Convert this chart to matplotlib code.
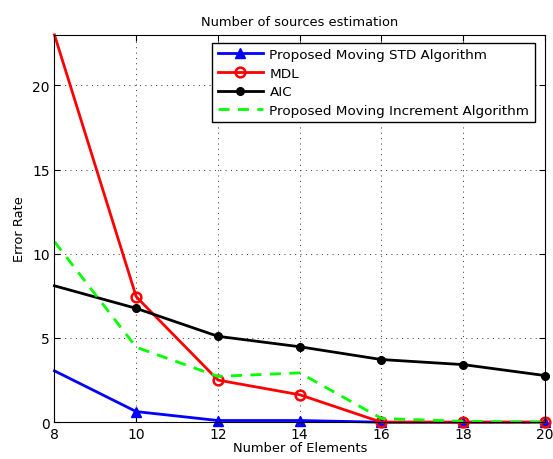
import matplotlib
matplotlib.use('Agg')
import matplotlib.pyplot as plt

# data
elements = [8, 10, 12, 14, 16, 18, 20]
std_alg = [3.05, 0.63, 0.1, 0.1, 0.0, 0.0, 0.0]
mdl = [23.0, 7.45, 2.5, 1.63, 0.0, 0.0, 0.0]
aic = [8.1, 6.76, 5.1, 4.48, 3.72, 3.42, 2.77]
incr_alg = [10.72, 4.45, 2.72, 2.93, 0.22, 0.05, 0.0]

plt.rcParams['font.family'] = ['DejaVu Sans']

fig = plt.figure(figsize=(5.53, 4.60), dpi=100)
ax = fig.add_axes([0.0985, 0.08, 0.887, 0.842])

skip = slice(1, None)  # no marker visible on the left edge
ax.plot(elements, std_alg, color='blue', lw=2, marker='^', ms=7, markevery=skip,
        mfc='blue', mec='blue', label='Proposed Moving STD Algorithm', clip_on=False)
ax.plot(elements, mdl, color='red', lw=2, marker='o', ms=7, mfc='none', markevery=skip,
        mec='red', mew=1.8, label='MDL', clip_on=False)
ax.plot(elements, aic, color='black', lw=2, marker='o', ms=5.5, markevery=skip,
        mfc='black', mec='black', label='AIC', clip_on=False)
ax.plot(elements, incr_alg, color='#00ff00', lw=2, ls='--', dashes=(4, 3),
        label='Proposed Moving Increment Algorithm', clip_on=False)

ax.set_xlim(8, 20)
ax.set_ylim(0, 23)
ax.set_xticks(elements)
ax.set_yticks([0, 5, 10, 15, 20])
ax.grid(True, color='#333333', lw=0.7, dashes=(1, 4.5))
ax.tick_params(direction='in', top=True, right=True, length=4, labelsize=10)
for s in ax.spines.values():
    s.set_linewidth(0.8)

ax.set_xlabel('Number of Elements', fontsize=9.4, labelpad=0)
ax.set_ylabel('Error Rate', fontsize=9.4, labelpad=4)
ax.set_title('Number of sources estimation', fontsize=9.4, pad=7)

leg = ax.legend(loc='upper right', bbox_to_anchor=(0.979, 0.98), borderaxespad=0,
                fontsize=9.7, fancybox=False, framealpha=1, edgecolor='black',
                handlelength=3.4, labelspacing=0.42, borderpad=0.4, handletextpad=0.45)
leg.get_frame().set_linewidth(1.0)

fig.savefig('out.png', dpi=100)
